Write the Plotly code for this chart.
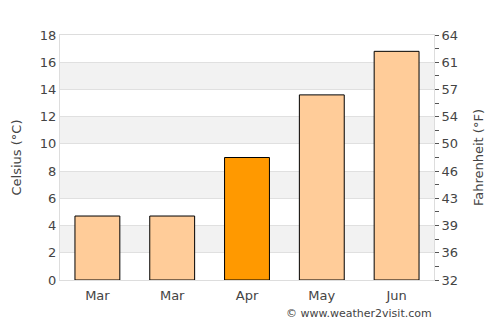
import plotly.graph_objects as go

months = ["Mar", "Mar", "Apr", "May", "Jun"]
celsius = [4.7, 4.7, 9.0, 13.6, 16.8]
highlight = [False, False, True, False, False]
c_ticks = list(range(0, 19, 2))
f_labels = [str(round(c * 9 / 5 + 32)) for c in c_ticks]

xs = list(range(len(months)))
colors = ["#ff9900" if h else "#ffcc99" for h in highlight]

fig = go.Figure()
fig.add_trace(go.Bar(x=xs, y=celsius, marker=dict(color=colors, line=dict(color="#000000", width=1)),
                     width=0.6, hoverinfo="skip"))
# invisible trace for the secondary axis
fig.add_trace(go.Scatter(x=[xs[0]], y=[0], yaxis="y2", mode="markers",
                         marker=dict(opacity=0), showlegend=False, hoverinfo="skip"))

shapes = []
for i, c in enumerate(c_ticks[:-1]):
    if i % 2 == 1:
        shapes.append(dict(type="rect", xref="paper", yref="y", x0=0, x1=1, y0=c, y1=c + 2,
                           fillcolor="#f2f2f2", line=dict(width=0), layer="below"))

font = "DejaVu Sans, sans-serif"
fig.update_layout(
    width=500, height=325,
    margin=dict(l=60, r=66, t=35, b=45),
    paper_bgcolor="white", plot_bgcolor="white",
    showlegend=False, bargap=0.4,
    font=dict(family=font, size=13, color="#444444"),
    shapes=shapes,
    xaxis=dict(tickvals=xs, ticktext=months, range=[-0.5, len(months) - 0.5],
               showgrid=False, showline=True, linecolor="#dddddd", mirror=True,
               ticks="", zeroline=False, ticklabelstandoff=3,
               tickfont=dict(size=13, color="#444444")),
    yaxis=dict(range=[0, 18], tickvals=c_ticks, showgrid=True, gridcolor="#e0e0e0",
               showline=True, linecolor="#dddddd", mirror=True, zeroline=False,
               ticks="", title=dict(text="Celsius (°C)", font=dict(size=13, color="#444444"), standoff=15),
               tickfont=dict(size=13, color="#444444")),
    yaxis2=dict(range=[0, 18], overlaying="y", side="right", tickvals=c_ticks, ticktext=f_labels,
                showgrid=False, zeroline=False, ticks="outside", ticklen=4, tickcolor="#555555",
                minor=dict(tickvals=list(range(1, 18, 2)), ticks="outside", ticklen=4, tickcolor="#555555"),
                title=dict(text="Fahrenheit (°F)", font=dict(size=13, color="#444444"), standoff=16),
                tickfont=dict(size=13, color="#444444")),
    annotations=[dict(text="© www.weather2visit.com", xref="paper", yref="paper", x=1, y=0,
                      yshift=-42, xanchor="right", yanchor="bottom", showarrow=False,
                      font=dict(size=11, color="#444444"))],
)
fig.write_html("out.html")
